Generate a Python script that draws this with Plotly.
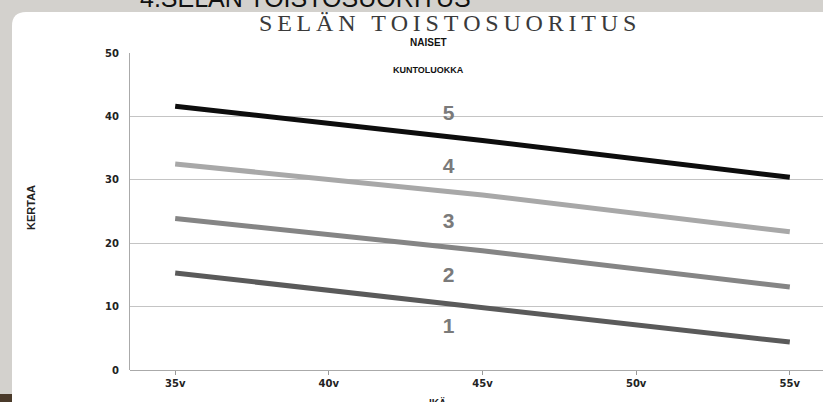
import plotly.graph_objects as go

ages = [35, 45, 55]
tick_vals = [35, 40, 45, 50, 55]
tick_text = ["35v", "40v", "45v", "50v", "55v"]
y_tick_vals = [0, 10, 20, 30, 40, 50]

line_5 = [41.6, 36.2, 30.4]   # black boundary (class 4/5)
line_4 = [32.5, 27.6, 21.8]   # light gray (class 3/4)
line_3 = [23.9, 18.8, 13.1]   # mid gray (class 2/3)
line_2 = [15.3, 9.8, 4.4]     # dark gray (class 1/2)

class_labels = ["5", "4", "3", "2", "1"]
class_label_y = [40.2, 31.9, 23.3, 14.7, 6.6]
class_label_x = 43.9

series = [
    (line_5, "#0d0d0d"),
    (line_4, "#a8a8a8"),
    (line_3, "#858585"),
    (line_2, "#5a5a5a"),
]

fig = go.Figure()
for vals, col in series:
    fig.add_trace(go.Scatter(x=ages, y=vals, mode="lines",
                             line=dict(color=col, width=5),
                             showlegend=False, hoverinfo="skip"))

fig.add_trace(go.Scatter(x=[class_label_x] * len(class_labels), y=class_label_y,
                         mode="text", text=["<b>%s</b>" % t for t in class_labels],
                         textfont=dict(family="Liberation Sans", size=21, color="#7a7a7a"),
                         showlegend=False, hoverinfo="skip"))

L, R, T, B = 130, 0, 53, 32
W, H = 823, 402
pw, ph = W - L - R, H - T - B

def px(x):
    return (x - L) / pw

def py(y):
    return (H - B - y) / ph

# white rounded panel
x0, x1 = px(12), px(830)
y0, y1 = py(405), py(12)
rx, ry = 14 / pw, 14 / ph
path = (f"M {x0},{y0} L {x0},{y1 - ry} Q {x0},{y1} {x0 + rx},{y1} "
        f"L {x1},{y1} L {x1},{y0} Z")

title_txt = "\u2009".join("SELÄN TOISTOSUORITUS")

fig.update_layout(
    width=W, height=H,
    margin=dict(l=L, r=R, t=T, b=B),
    paper_bgcolor="#d3d1cd",
    plot_bgcolor="white",
    shapes=[
        dict(type="path", path=path, xref="paper", yref="paper",
             fillcolor="white", line=dict(width=0), layer="below"),
        dict(type="rect", xref="paper", yref="paper", x0=px(0), x1=px(12),
             y0=py(402), y1=py(394), fillcolor="#4a3a2a", line=dict(width=0), layer="below"),
    ],
    xaxis=dict(range=[33.53, 56.08], tickvals=tick_vals,
               ticktext=["<b>%s</b>" % t for t in tick_text],
               showgrid=False, zeroline=False, showline=False,
               ticks="outside", ticklen=4, tickcolor="#999999",
               tickfont=dict(family="DejaVu Sans", size=10, color="#222222"),
               fixedrange=True),
    yaxis=dict(range=[0, 50], tickvals=y_tick_vals,
               ticktext=["<b>%d</b>" % v for v in y_tick_vals],
               showgrid=True, gridcolor="#c4c4c4", gridwidth=1,
               zeroline=True, zerolinecolor="#aaaaaa", zerolinewidth=1,
               showline=True, linecolor="#aaaaaa", linewidth=1,
               ticks="", ticklabelstandoff=8,
               tickfont=dict(family="DejaVu Sans", size=10, color="#222222"),
               fixedrange=True),
    annotations=[
        dict(text="4.SELÄN TOISTOSUORITUS", xref="paper", yref="paper",
             x=px(305), y=py(14), xanchor="center", yanchor="bottom",
             showarrow=False,
             font=dict(family="Liberation Sans", size=25, color="#111111")),
        dict(text=title_txt, xref="paper", yref="paper",
             x=px(447), y=py(23), xanchor="center", yanchor="middle",
             showarrow=False,
             font=dict(family="Liberation Serif", size=24, color="#3a3a3a")),
        dict(text="<b>NAISET</b>", xref="paper", yref="paper",
             x=px(428), y=py(43), xanchor="center", yanchor="middle",
             showarrow=False,
             font=dict(family="Liberation Sans", size=10, color="#111111")),
        dict(text="<b>KUNTOLUOKKA</b>", xref="paper", yref="paper",
             x=px(428), y=py(70), xanchor="center", yanchor="middle",
             showarrow=False,
             font=dict(family="Liberation Sans", size=9, color="#111111")),
        dict(text="<b>KERTAA</b>", xref="paper", yref="paper",
             x=px(31), y=py(208), xanchor="center", yanchor="middle",
             textangle=-90, showarrow=False,
             font=dict(family="Liberation Sans", size=11, color="#222222")),
        dict(text="<b>IKÄ</b>", xref="paper", yref="paper",
             x=px(437), y=py(395), xanchor="center", yanchor="top",
             showarrow=False,
             font=dict(family="Liberation Sans", size=10, color="#222222")),
    ],
)

fig.write_html("out.html", config={"displayModeBar": False},
               post_script="document.body.style.margin='0';")
